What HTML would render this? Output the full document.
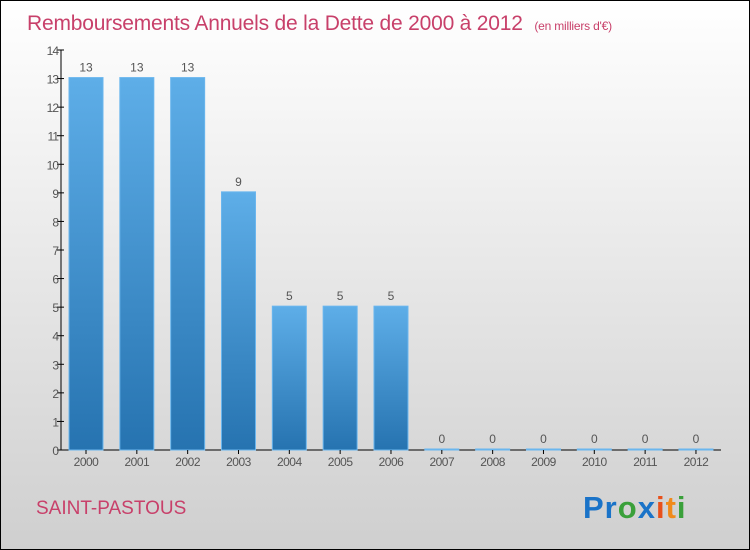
<!DOCTYPE html>
<html><head><meta charset="utf-8"><style>
body{margin:0}
#c{width:750px;height:550px;position:relative;box-sizing:border-box;border:1px solid #000;background:linear-gradient(#fff,#cfcfcf);font-family:"Liberation Sans",sans-serif;overflow:hidden}
</style></head><body>
<div id="c">
<svg width="750" height="550" style="position:absolute;left:-1px;top:-1px" id="s">
<defs><linearGradient id="bg" x1="0" y1="0" x2="0" y2="1"><stop offset="0" stop-color="#5eaee8"/><stop offset="1" stop-color="#2673b0"/></linearGradient></defs>
<text x="27" y="30" font-size="21" fill="#c8406a" letter-spacing="-0.2">Remboursements Annuels de la Dette de 2000 à 2012 <tspan font-size="12" dx="6">(en milliers d'€)</tspan></text>
<text x="36" y="514" font-size="19" fill="#c8406a">SAINT-PASTOUS</text>
<text x="583" y="518" font-size="31" font-weight="bold" letter-spacing="1"><tspan fill="#1a73c8">Pr</tspan><tspan fill="#3aa03a">o</tspan><tspan fill="#1a73c8">x</tspan><tspan fill="#e8501a">i</tspan><tspan fill="#f08a1a">t</tspan><tspan fill="#3aa03a">i</tspan></text>
<g id="g"></g>
</svg>
</div>
<script>
const years=["2000","2001","2002","2003","2004","2005","2006","2007","2008","2009","2010","2011","2012"];
const values=[13,13,13,9,5,5,5,0,0,0,0,0,0];
const yTicks=[0,1,2,3,4,5,6,7,8,9,10,11,12,13,14];
const ns="http://www.w3.org/2000/svg";
const g=document.getElementById('g');
const y=v=>450-v*(400/14);
const x=i=>86+i*50.83;
function mk(t,a,txt){const e=document.createElementNS(ns,t);for(const k in a)e.setAttribute(k,a[k]);if(txt!=null)e.textContent=txt;g.appendChild(e);return e;}
let e=mk('line',{x1:61,y1:50,x2:61,y2:450,stroke:'#000'});


e=mk('line',{x1:61,y1:450,x2:721,y2:450,stroke:'#000'});


yTicks.forEach(v=>{
 mk('line',{x1:57,x2:64,y1:y(v),y2:y(v),stroke:'#000'});
 e=mk('text',{x:58,y:y(v)+5,'font-size':12,'text-anchor':'end',fill:'#555','letter-spacing':'-1'},v);
 
 
});
years.forEach((yr,i)=>{
 const v=values[i];
 e=mk('rect',{x:x(i)-17,y:y(v)-1,width:34,height:Math.max(450-y(v)+1,1),fill:'url(#bg)',stroke:'#6ab6ee','stroke-width':1});
 
 
 mk('line',{x1:x(i),x2:x(i),y1:450,y2:454,stroke:'#000'});
 e=mk('text',{x:x(i),y:y(v)-7,'font-size':12,'text-anchor':'middle',fill:'#555'},v);
 
 
 e=mk('text',{x:x(i),y:466,'font-size':12,'text-anchor':'middle',fill:'#555','letter-spacing':'-0.5'},yr);
 
 
});
</script>
</body></html>
